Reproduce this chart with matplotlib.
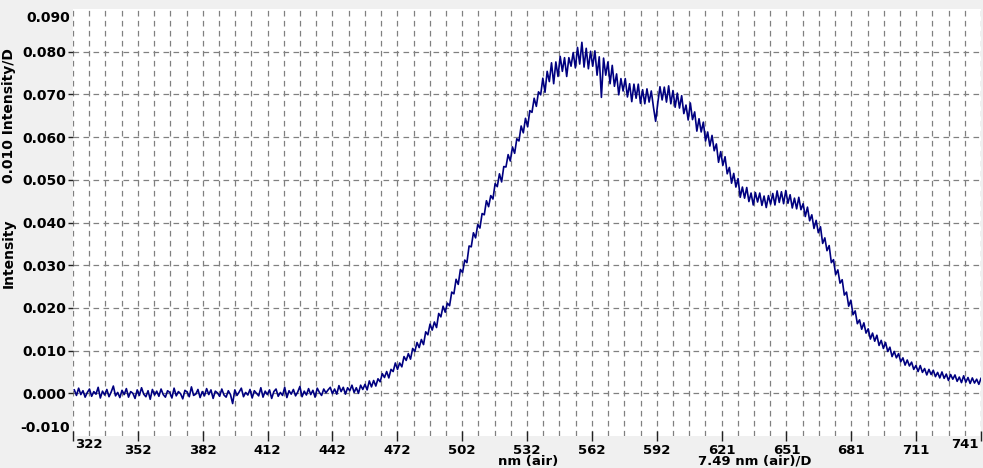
import numpy as np
import matplotlib
matplotlib.use("Agg")
import matplotlib.pyplot as plt

# ---------------- data ----------------
wavelength_nm = np.arange(323, 742)  # 1 nm sampling, 323 .. 741 nm

baseline = [
    0.0008, -0.0005, 0.0012, -0.0003, 0.0006, -0.0009, 0.0002, 0.0010, -0.0007, 0.0004,
    -0.0002, 0.0014, -0.0011, 0.0005, -0.0004, 0.0009, -0.0008, 0.0003, 0.0017, -0.0006,
    0.0002, -0.0010, 0.0007, -0.0003, 0.0011, -0.0009, 0.0004, 0.0000, -0.0012, 0.0008,
    -0.0005, 0.0013, -0.0002, -0.0008, 0.0006, -0.0014, 0.0009, -0.0004, 0.0005, -0.0007,
    0.0010, -0.0003, -0.0009, 0.0006, 0.0002, -0.0011, 0.0012, -0.0006, 0.0004, -0.0001,
    -0.0013, 0.0007, 0.0003, -0.0008, 0.0015, -0.0005, -0.0002, 0.0009, -0.0010, 0.0004,
    -0.0006, 0.0011, -0.0003, 0.0008, -0.0012, 0.0005, 0.0001, -0.0007, 0.0010, -0.0004,
    -0.0009, 0.0006, -0.0003, -0.0024, 0.0008, -0.0005, 0.0003, 0.0012, -0.0008, 0.0002,
    -0.0004, 0.0009, -0.0011, 0.0006, 0.0000, -0.0006, 0.0013, -0.0009, 0.0005, -0.0003,
    0.0008, -0.0012, 0.0004, 0.0010, -0.0007, 0.0002, -0.0005, 0.0014, -0.0010, 0.0006,
    -0.0002, 0.0009, -0.0006, 0.0003, 0.0016, -0.0008, 0.0005, -0.0004, 0.0011, -0.0003,
    0.0007, -0.0009, 0.0012, 0.0002, -0.0005, 0.0010, 0.0001, 0.0008,
]

rise = [
    0.0014, -0.0001, 0.0010, -0.0002, 0.0018, 0.0004, 0.0014, -0.0002, 0.0013, 0.0006,
    0.0019, 0.0002, 0.0013, 0.0000, 0.0019, 0.0009, 0.0021, 0.0008, 0.0029, 0.0015,
    0.0030, 0.0017, 0.0034, 0.0027, 0.0046, 0.0037, 0.0051, 0.0036, 0.0056, 0.0051,
    0.0071, 0.0056, 0.0071, 0.0062, 0.0086, 0.0077, 0.0093, 0.0080, 0.0105, 0.0098,
    0.0119, 0.0107, 0.0126, 0.0114, 0.0144, 0.0137, 0.0162, 0.0148, 0.0167, 0.0154,
    0.0187, 0.0179, 0.0204, 0.0190, 0.0211, 0.0205, 0.0237, 0.0233, 0.0267, 0.0255,
]

climb = [
    0.0290, 0.0283, 0.0312, 0.0306, 0.0345, 0.0343, 0.0376, 0.0364, 0.0395, 0.0387,
    0.0421, 0.0418, 0.0451, 0.0437, 0.0463, 0.0455, 0.0491, 0.0484, 0.0514, 0.0495,
    0.0531, 0.0530, 0.0559, 0.0544, 0.0577, 0.0562, 0.0596, 0.0591, 0.0626, 0.0610,
    0.0644, 0.0624, 0.0662, 0.0658, 0.0691, 0.0672, 0.0706, 0.0699, 0.0738, 0.0705,
    0.0754, 0.0730, 0.0774, 0.0725, 0.0776,
]

peak = [
    0.0742, 0.0789, 0.0754, 0.0786, 0.0742, 0.0786, 0.0766, 0.0798, 0.0762, 0.0810,
    0.0771, 0.0822, 0.0764, 0.0808, 0.0760, 0.0801, 0.0766, 0.0802, 0.0745, 0.0788,
    0.0693, 0.0785, 0.0745, 0.0776, 0.0725, 0.0768, 0.0719, 0.0748, 0.0699, 0.0737,
    0.0708, 0.0737, 0.0694, 0.0725, 0.0683, 0.0724, 0.0691, 0.0724, 0.0679, 0.0711,
    0.0678, 0.0713, 0.0682, 0.0708, 0.0670, 0.0637, 0.0680, 0.0718, 0.0687, 0.0717,
    0.0682, 0.0720, 0.0678, 0.0709, 0.0670,
]

shoulder = [
    0.0703, 0.0668, 0.0697, 0.0655, 0.0675, 0.0640, 0.0680, 0.0641, 0.0659, 0.0614,
    0.0643, 0.0612, 0.0635, 0.0591, 0.0612, 0.0579, 0.0604, 0.0568, 0.0584, 0.0541,
    0.0566, 0.0534, 0.0554, 0.0514, 0.0529, 0.0492, 0.0515, 0.0483, 0.0503, 0.0459,
    0.0483, 0.0457, 0.0482, 0.0449, 0.0469, 0.0441, 0.0470, 0.0448, 0.0469, 0.0440,
    0.0462, 0.0435, 0.0463, 0.0443, 0.0468, 0.0441, 0.0474, 0.0447, 0.0472, 0.0444,
    0.0475, 0.0445, 0.0465, 0.0434, 0.0457, 0.0432, 0.0459, 0.0430, 0.0444, 0.0414,
]

tail = [
    0.0436, 0.0404, 0.0418, 0.0386, 0.0405, 0.0376, 0.0390, 0.0351, 0.0364, 0.0334,
    0.0346, 0.0306, 0.0313, 0.0278, 0.0289, 0.0258, 0.0266, 0.0230, 0.0237, 0.0204,
    0.0218, 0.0184, 0.0193, 0.0163, 0.0172, 0.0150, 0.0165, 0.0141, 0.0151, 0.0127,
    0.0141, 0.0122, 0.0136, 0.0112, 0.0124, 0.0105, 0.0119, 0.0098, 0.0108, 0.0086,
    0.0098, 0.0083, 0.0093, 0.0074, 0.0083, 0.0066, 0.0078, 0.0064, 0.0073, 0.0056,
    0.0065, 0.0051, 0.0065, 0.0049, 0.0058, 0.0043, 0.0056, 0.0044, 0.0054, 0.0039,
    0.0049, 0.0036, 0.0050, 0.0035, 0.0045, 0.0030, 0.0044, 0.0033, 0.0043, 0.0028,
    0.0038, 0.0025, 0.0041, 0.0026, 0.0037, 0.0023, 0.0036, 0.0024, 0.0033, 0.0021,
    0.0035,
]

intensity = np.array(baseline + rise + climb + peak + shoulder + tail)

xtick_labels = ['322', '352', '382', '412', '442', '472', '502', '532',
                '562', '592', '621', '651', '681', '711', '741']
ytick_values = [0.0, 0.01, 0.02, 0.03, 0.04, 0.05, 0.06, 0.07, 0.08]
ytick_labels = ['0.000', '0.010', '0.020', '0.030', '0.040', '0.050',
                '0.060', '0.070', '0.080']
x_min, x_max = 322.4, 741.0
y_min, y_max = -0.010, 0.090

# ---------------- figure ----------------
W, H = 983, 468
fig = plt.figure(figsize=(W / 100, H / 100), dpi=100, facecolor='#f0f0f0')
ax = fig.add_axes([73 / W, 1 - 436 / H, (981 - 73) / W, (436 - 9) / H])
ax.set_facecolor('white')
for s in ax.spines.values():
    s.set_visible(False)

ax.set_xlim(x_min, x_max)
ax.set_ylim(y_min, y_max)

major_x = np.linspace(x_min, x_max, len(xtick_labels))
minor_x = np.linspace(x_min, x_max, 4 * (len(xtick_labels) - 1) + 1)

grid_kw = dict(color='#808080', linewidth=0.9, linestyle=(0, (4.5, 3.5)), zorder=1)
for xv in minor_x:
    ax.axvline(xv, **grid_kw)
for yv in ytick_values:
    ax.axhline(yv, **grid_kw)

ax.plot(wavelength_nm, intensity, color='#000080', linewidth=1.2, zorder=3)

font_kw = dict(fontsize=10, fontweight='bold', color='black')
xfont_kw = dict(fontsize=9.5, fontweight='bold', color='black')

ax.set_xticks(major_x)
ax.set_xticklabels([''] + xtick_labels[1:-1] + [''], **xfont_kw)
ax.tick_params(axis='x', which='major', direction='inout', length=7,
               width=1.0, color='#222222', pad=2)
ax.set_yticks(ytick_values)
ax.set_yticklabels(ytick_labels, **font_kw)
ax.tick_params(axis='y', which='major', direction='out', length=3.6,
               width=1.0, color='#222222', pad=1)

# edge labels drawn inset like the original
def px(x, y):
    return x / W, 1 - y / H

fig.text(*px(89, 444), xtick_labels[0], ha='center', va='center', **xfont_kw)
fig.text(*px(965, 444), xtick_labels[-1], ha='center', va='center', **xfont_kw)
fig.text(*px(70, 18), '0.090', ha='right', va='center', **font_kw)
fig.text(*px(70, 428), '-0.010', ha='right', va='center', **font_kw)

# axis titles
fig.text(*px(9, 253), 'Intensity', rotation=90, ha='center', va='center', **font_kw)
fig.text(*px(9, 116), '0.010 Intensity/D', rotation=90, ha='center', va='center', **font_kw)
fig.text(*px(528, 465), 'nm (air)', ha='center', va='baseline', **xfont_kw)
fig.text(*px(755, 465), '7.49 nm (air)/D', ha='center', va='baseline', **xfont_kw)

fig.savefig('out.png', dpi=100, facecolor=fig.get_facecolor())
